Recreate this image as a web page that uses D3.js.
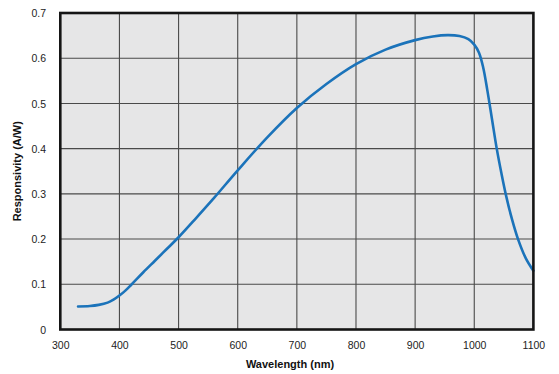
<!DOCTYPE html>
<html>
<head>
<meta charset="utf-8">
<script src="https://cdn.jsdelivr.net/npm/d3@7"></script>
<style>
  html, body { margin: 0; padding: 0; background: #ffffff; }
  svg { display: block; }
</style>
</head>
<body>
<div id="chart"></div>
<script>
// Data
const wavelength = [330, 350, 365, 380, 390, 400, 410, 420, 440, 460, 480, 500, 530, 560, 600, 650, 700, 750, 800, 850, 900, 930, 955, 975, 990, 1000, 1008, 1015, 1022, 1030, 1038, 1046, 1054, 1064, 1074, 1087, 1100];
const responsivity = [0.051, 0.052, 0.0545, 0.0595, 0.066, 0.075, 0.086, 0.099, 0.126, 0.152, 0.178, 0.204, 0.247, 0.291, 0.352, 0.425, 0.490, 0.543, 0.587, 0.619, 0.640, 0.648, 0.651, 0.649, 0.642, 0.630, 0.612, 0.580, 0.530, 0.465, 0.400, 0.345, 0.295, 0.243, 0.200, 0.158, 0.130];
const xTicks = [300, 400, 500, 600, 700, 800, 900, 1000, 1100];
const xTickLabels = ["300", "400", "500", "600", "700", "800", "900", "1000", "1100"];
const yTicks = [0, 0.1, 0.2, 0.3, 0.4, 0.5, 0.6, 0.7];
const yTickLabels = ["0", "0.1", "0.2", "0.3", "0.4", "0.5", "0.6", "0.7"];
const xTitle = "Wavelength (nm)";
const yTitle = "Responsivity (A/W)";

(function () {
const W = 559, H = 374;
const pL = 60.3, pR = 533.4, pT = 13, pB = 329.5;

const svg = d3.select("#chart").append("svg")
  .attr("width", W).attr("height", H);

const x = d3.scaleLinear().domain([300, 1100]).range([pL, pR]);
const y = d3.scaleLinear().domain([0, 0.7]).range([pB, pT]);

// Plot background
svg.append("rect")
  .attr("x", pL).attr("y", pT)
  .attr("width", pR - pL).attr("height", pB - pT)
  .attr("fill", "#e6e6e7");

// Grid lines
const grid = svg.append("g");
grid.selectAll("line.vx").data(xTicks.slice(1, -1)).enter().append("line")
  .attr("x1", d => x(d)).attr("x2", d => x(d))
  .attr("y1", pT).attr("y2", pB)
  .attr("stroke", "#4a4a4a").attr("stroke-width", 1.1);
grid.selectAll("line.hy").data(yTicks.slice(1, -1)).enter().append("line")
  .attr("x1", pL).attr("x2", pR)
  .attr("y1", d => y(d)).attr("y2", d => y(d))
  .attr("stroke", "#4a4a4a").attr("stroke-width", 1.1);

// Curve
const pts = wavelength.map((w, i) => [w, responsivity[i]]);
const line = d3.line().x(d => x(d[0])).y(d => y(d[1])).curve(d3.curveCatmullRom.alpha(0.5));
svg.append("path")
  .datum(pts)
  .attr("d", line)
  .attr("fill", "none")
  .attr("stroke", "#1b73ba")
  .attr("stroke-width", 2.6)
  .attr("stroke-linecap", "round");

// Border
svg.append("rect")
  .attr("x", pL).attr("y", pT)
  .attr("width", pR - pL).attr("height", pB - pT)
  .attr("fill", "none")
  .attr("stroke", "#151515").attr("stroke-width", 2.6);

// X axis labels
const xAxis = d3.axisBottom(x).tickValues(xTicks).tickFormat((d, i) => xTickLabels[i]).tickSize(0).tickPadding(0);
const gx = svg.append("g").attr("transform", `translate(0, ${pB})`).call(xAxis);
gx.select(".domain").remove();
gx.selectAll("text")
  .attr("y", 19).attr("dy", 0)
  .attr("font-family", "Liberation Sans, Arial, sans-serif")
  .attr("font-size", 10.5).attr("fill", "#222");

// Y axis labels
const yAxis = d3.axisLeft(y).tickValues(yTicks).tickFormat((d, i) => yTickLabels[i]).tickSize(0).tickPadding(0);
const gy = svg.append("g").attr("transform", `translate(46, 0)`).call(yAxis);
gy.select(".domain").remove();
gy.selectAll("text")
  .attr("x", 0).attr("dy", "0.35em")
  .attr("font-family", "Liberation Sans, Arial, sans-serif")
  .attr("font-size", 10.5).attr("fill", "#222");

// Titles
svg.append("text")
  .attr("x", 290).attr("y", 368)
  .attr("text-anchor", "middle")
  .attr("font-family", "Liberation Sans, Arial, sans-serif")
  .attr("font-weight", "bold").attr("font-size", 11)
  .attr("fill", "#111")
  .text(xTitle);

svg.append("text")
  .attr("transform", `translate(20.5, ${(pT + pB) / 2}) rotate(-90)`)
  .attr("text-anchor", "middle")
  .attr("font-family", "Liberation Sans, Arial, sans-serif")
  .attr("font-weight", "bold").attr("font-size", 11)
  .attr("fill", "#111")
  .text(yTitle);
})();
</script>
</body>
</html>
